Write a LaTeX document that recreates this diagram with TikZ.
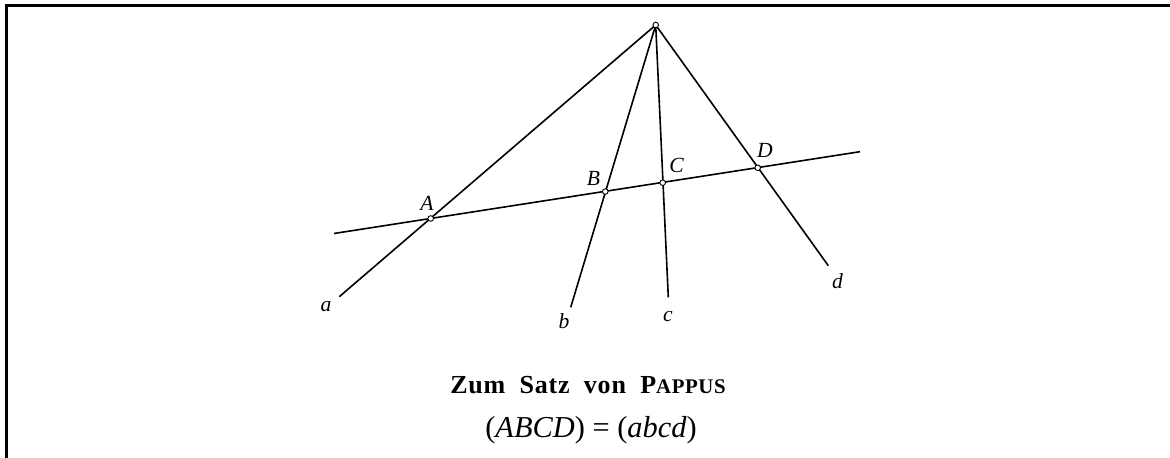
\documentclass[tikz,border=0pt]{standalone}
\usepackage{fontspec}
\setmainfont{Liberation Serif}
\begin{document}
\begin{tikzpicture}[x=0.5pt,y=-0.5pt,
  ln/.style={line width=0.8pt},
  pnt/.style={circle,draw,fill=white,inner sep=0pt,minimum size=2.8pt,line width=0.45pt},
  lbl/.style={font=\fontsize{10.8}{13}\selectfont\itshape,inner sep=0pt}]
\useasboundingbox (0,0) rectangle (1170,458);
\draw[line width=1.5pt] (6,458) coordinate (fb) -- (6,6) coordinate (fc) -- (1170,6) coordinate (fr);
% points
\coordinate (O) at (655.7,25);
\coordinate (A) at (430.7,218.5);
\coordinate (B) at (605.3,191.5);
\coordinate (C) at (662.7,182.7);
\coordinate (D) at (757.7,167.8);
\coordinate (mL) at (334,233.5);
\coordinate (mR) at (860,151.7);
\coordinate (ea) at (339.3,296.7);
\coordinate (eb) at (570.7,307.3);
\coordinate (ec) at (668.3,297.3);
\coordinate (ed) at (828.3,265.7);
% lines
\draw[ln] (mL) -- (mR);
\draw[ln] (O) -- (ea);
\draw[ln] (O) -- (eb);
\draw[ln] (O) -- (ec);
\draw[ln] (O) -- (ed);
% dots
\node[pnt] (pO) at (O) {};
\node[pnt] (pA) at (A) {};
\node[pnt] (pB) at (B) {};
\node[pnt] (pC) at (C) {};
\node[pnt] (pD) at (D) {};
% labels
\node[lbl] (lA) at (427,203.5) {A};
\node[lbl] (lB) at (593.5,178.5) {B};
\node[lbl] (lC) at (676.5,165.5) {C};
\node[lbl] (lD) at (765,150.5) {D};
\node[lbl] (la) at (326,307) {a};
\node[lbl] (lb) at (564,321.5) {b};
\node[lbl] (lc) at (668,316.5) {c};
\node[lbl] (ld) at (837.5,281.5) {d};
% captions
\node[anchor=base,inner sep=0pt,font=\fontsize{13}{15}\selectfont\bfseries\addfontfeature{LetterSpace=3}] (title) at (588,393.5)
  {Zum\hspace{0.55em}Satz\hspace{0.55em}von\hspace{0.55em}P{\fontsize{10.4}{12}\selectfont APPUS}};
\node[anchor=base,inner sep=0pt,font=\fontsize{15.2}{18}\selectfont] (formula) at (591,437.5)
  {(\textit{ABCD}) = (\textit{abcd})};
\end{tikzpicture}
\end{document}
